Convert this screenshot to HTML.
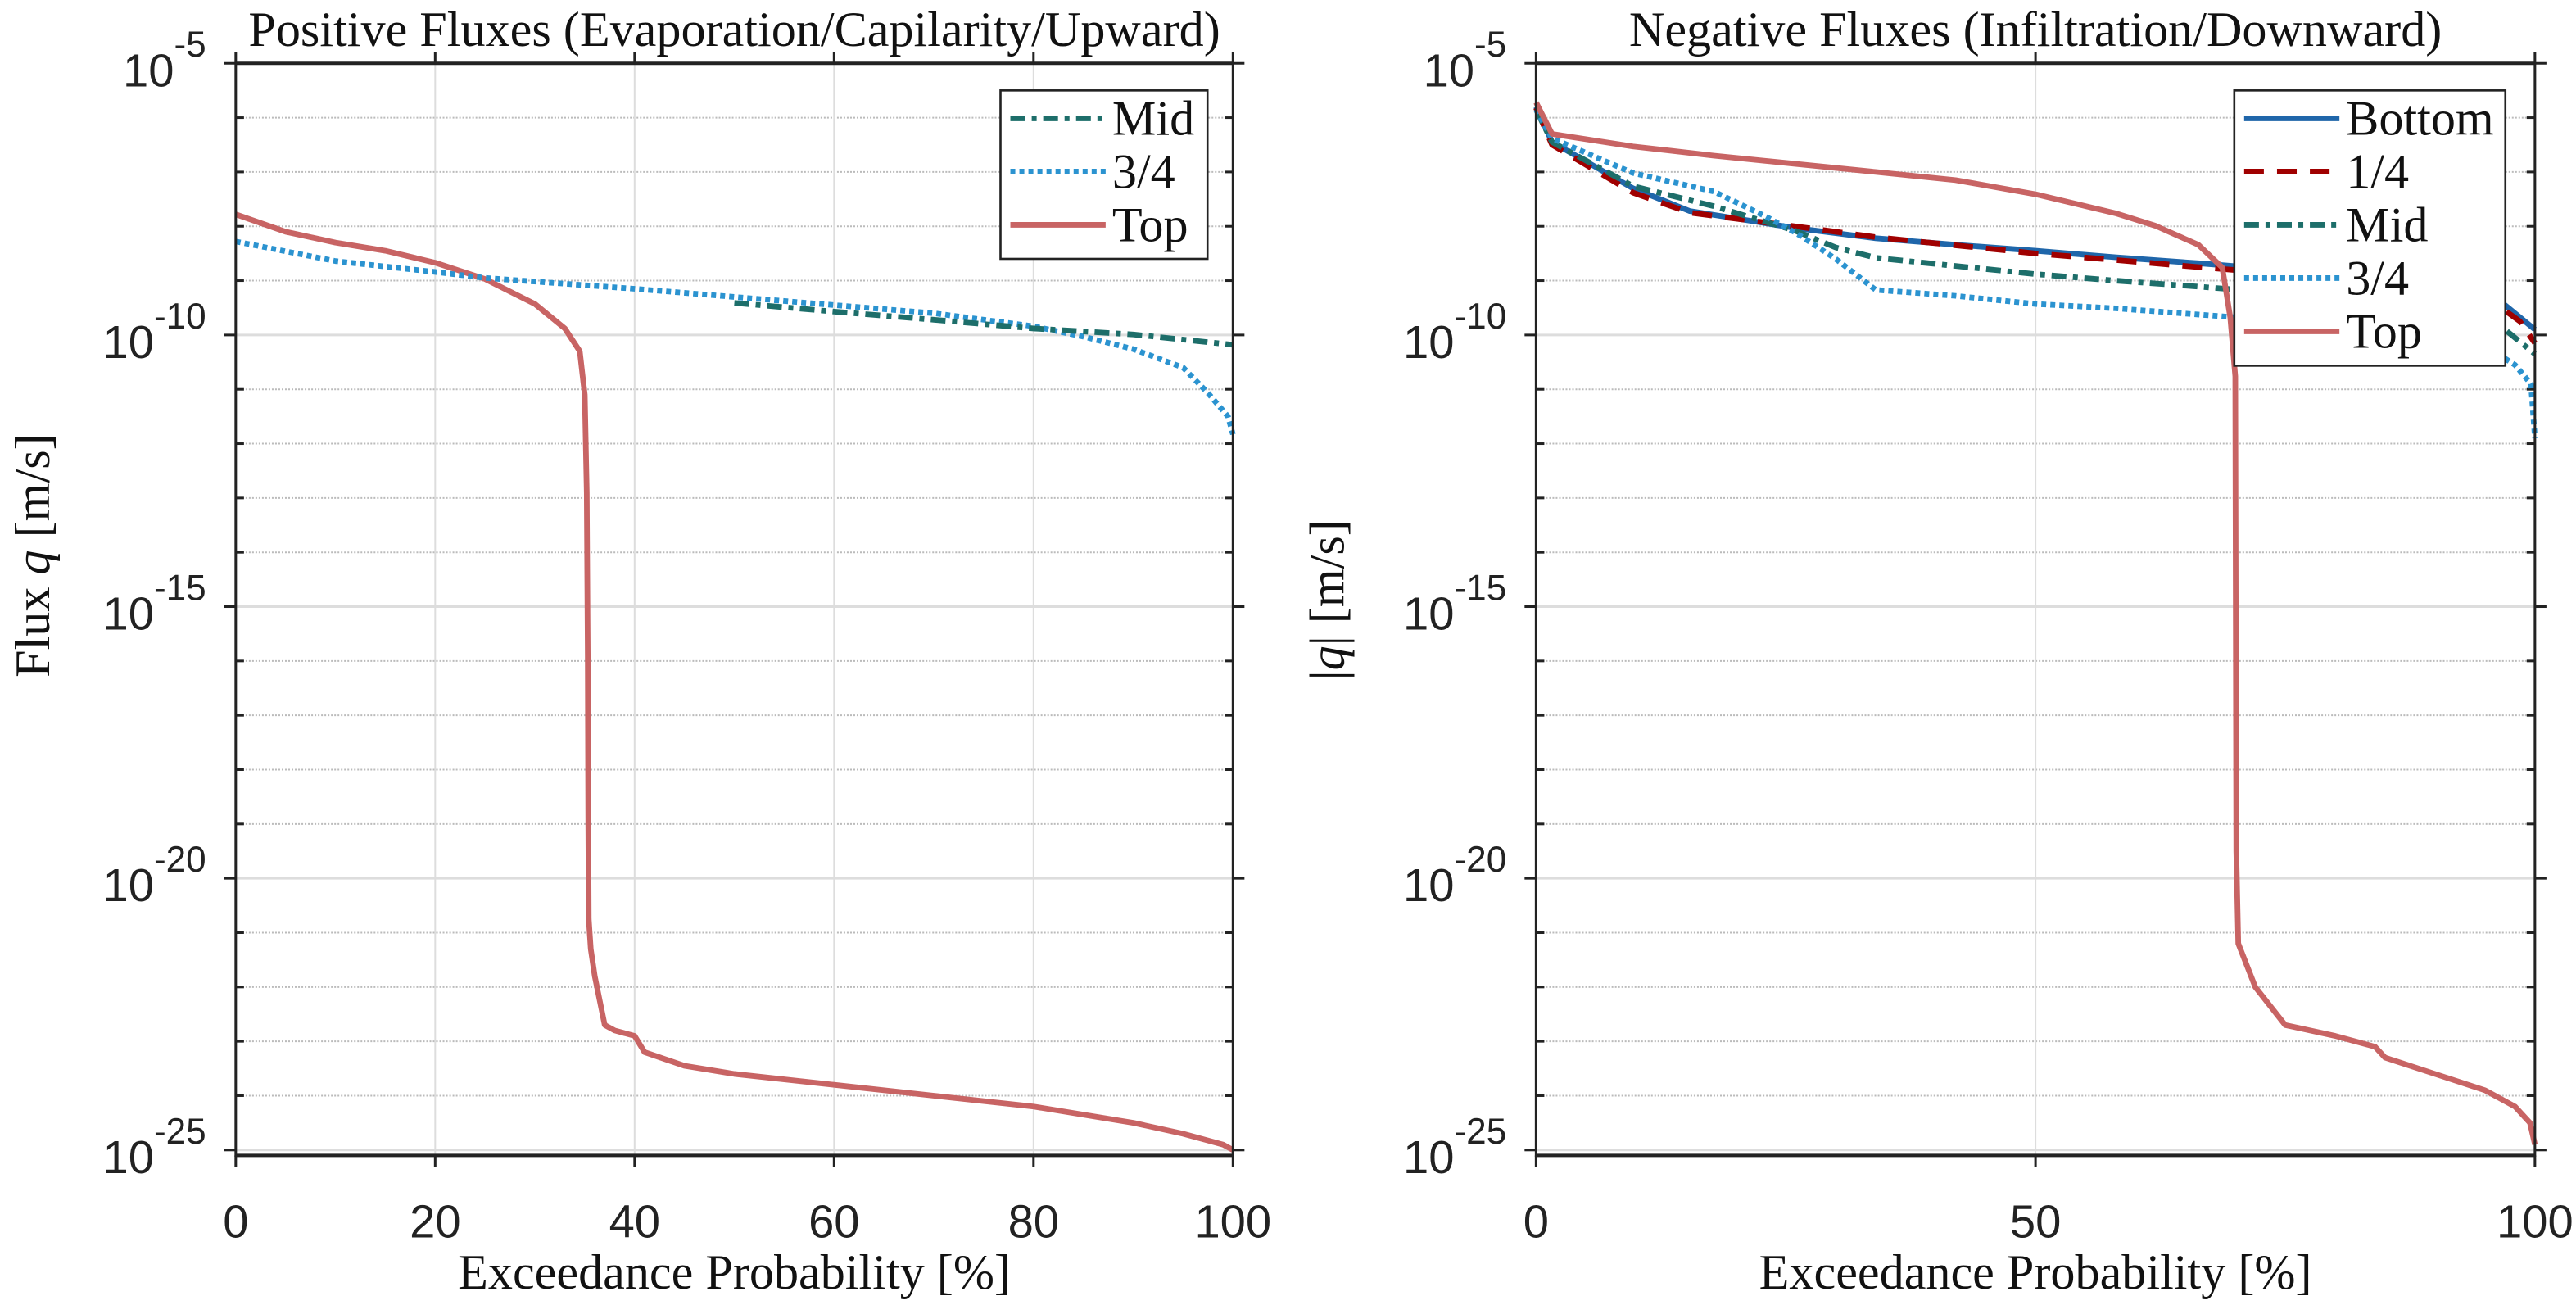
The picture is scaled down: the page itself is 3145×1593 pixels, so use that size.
<!DOCTYPE html>
<html><head><meta charset="utf-8"><style>
html,body{margin:0;padding:0;background:#fff;}
svg{display:block;}
.tt{font-family:"Liberation Serif",serif;font-size:30px;fill:#111;}
.tk{font-family:"Liberation Sans",sans-serif;font-size:28px;fill:#222;}
</style></head><body>
<svg id="chart" xmlns="http://www.w3.org/2000/svg" width="3145" height="1593" viewBox="0 0 1568 794" preserveAspectRatio="none">
<rect x="0" y="0" width="1568" height="794" fill="#fff"/>
</svg>
<script>
// ---- data (x = exceedance %, y = log10 flux) ----
const leftTopX = [0,5,10,15,20,25,30,33,34.5,35,35.2,35.3,35.35,35.4,35.6,36,37,38,40,41,45,50,60,70,80,90,95,99,100];
const leftTopY = [-7.78,-8.1,-8.3,-8.45,-8.67,-8.97,-9.43,-9.88,-10.3,-11.1,-12.9,-15.9,-18.9,-20.75,-21.3,-21.8,-22.7,-22.8,-22.9,-23.2,-23.45,-23.6,-23.8,-24.0,-24.2,-24.5,-24.7,-24.9,-25.0];
const left34X = [0,5,10,20,25,40,50,60,70,80,85,90,95,97.5,99.5,100];
const left34Y = [-8.28,-8.46,-8.64,-8.84,-8.95,-9.15,-9.3,-9.45,-9.6,-9.84,-10.03,-10.26,-10.6,-11.07,-11.5,-11.83];
const leftMidX = [50,60,70,80,90,100];
const leftMidY = [-9.41,-9.57,-9.72,-9.88,-9.99,-10.18];

const rightTopX = [0,1.6,9.7,17.8,25.9,34,42,50,58,62,66.3,68.7,69.5,70,70.1,70.3,72,75,80,84,85,90,95,98,99.5,100];
const rightTopY = [-5.72,-6.3,-6.53,-6.7,-6.85,-7.0,-7.15,-7.41,-7.76,-7.99,-8.34,-8.76,-9.68,-10.76,-19.5,-21.2,-22.0,-22.7,-22.9,-23.1,-23.3,-23.6,-23.9,-24.2,-24.5,-24.9];
const rightBotX = [0,1.6,9.7,15.4,25.9,34,42,50,58,66.3,74.4,82.5,90.5,97,100];
const rightBotY = [-5.8,-6.45,-7.3,-7.72,-8.03,-8.22,-8.34,-8.45,-8.57,-8.68,-8.8,-8.95,-9.15,-9.45,-9.9];
const rightQ1X = [0,1.6,9.7,15.4,25.9,34,42,50,58,66.3,74.4,82.5,90.5,97,98.5,100];
const rightQ1Y = [-5.82,-6.5,-7.38,-7.75,-8.0,-8.2,-8.35,-8.5,-8.62,-8.75,-8.87,-9.02,-9.2,-9.55,-9.75,-10.15];
const rightMidX = [0,1.6,9.7,17.8,25.9,30,34,42,50,58,66.3,74,82.5,90.5,97,100];
const rightMidY = [-5.85,-6.45,-7.26,-7.63,-8.08,-8.39,-8.58,-8.73,-8.88,-9.0,-9.11,-9.22,-9.38,-9.6,-9.9,-10.35];
const right34X = [0,1.6,9.7,17.8,23,26,30,34,42,50,58,66,74,82,90,95,98,99.6,100];
const right34Y = [-5.85,-6.38,-7.02,-7.36,-7.82,-8.12,-8.6,-9.17,-9.28,-9.43,-9.51,-9.62,-9.73,-9.85,-10.0,-10.2,-10.55,-10.9,-11.9];

const leftXTicks = [0,20,40,60,80,100];
const rightXTicks = [0,50,100];
const yTickExps = [-5,-10,-15,-20,-25];

const NS = "http://www.w3.org/2000/svg";
const svg = document.getElementById('chart');
function mk(tag, attrs, parent){ const e=document.createElementNS(NS,tag); for(const k in attrs) e.setAttribute(k,attrs[k]); (parent||svg).appendChild(e); return e; }

const COL = {bottom:'#1f66aa', q1:'#a00000', mid:'#1d6e6a', q34:'#2b93d0', top:'#c86464'};

function panel(name, x0, x1, xTicks, title, ylab, series, legend){
  const yT=38.5, yB=703, yMin=-25.1, yMax=-5;
  const sx = v => x0 + (v/100)*(x1-x0);
  const sy = v => yT + (yMax-v)/(yMax-yMin)*(yB-yT);
  const g = mk('g',{});
  
  
  for(let d=-6; d>=-24; d--){
    if(d%5===0) continue;
    const l=mk('line',{x1:x0,x2:x1,y1:sy(d),y2:sy(d),stroke:'#bbb','stroke-width':1,'stroke-dasharray':'1 1'},g);
    
    
    mk('line',{x1:x0,x2:x0+5,y1:sy(d),y2:sy(d),stroke:'#222','stroke-width':1.5},g);
    mk('line',{x1:x1-5,x2:x1,y1:sy(d),y2:sy(d),stroke:'#222','stroke-width':1.5},g);
  }
  yTickExps.forEach(e=>{
    const y=sy(e);
    const l=mk('line',{x1:x0,x2:x1,y1:y,y2:y,stroke:'#ddd','stroke-width':1.5},g);
    
    
    mk('line',{x1:x0-7,x2:x0,y1:y,y2:y,stroke:'#222','stroke-width':1.5},g);
    mk('line',{x1:x1,x2:x1+7,y1:y,y2:y,stroke:'#222','stroke-width':1.5},g);
    const t=mk('text',{x:x0-18,y:y+14,'text-anchor':'end',class:'tk'},g);
    
    
    t.textContent='10';
    const s=mk('tspan',{dy:-18,'font-size':'22'},t); s.textContent=String(e);
  });
  xTicks.forEach(v=>{
    const x=sx(v);
    const l=mk('line',{x1:x,x2:x,y1:yT,y2:yB,stroke:'#ddd','stroke-width':1},g);
    
    
    mk('line',{x1:x,x2:x,y1:yB,y2:yB+7,stroke:'#222','stroke-width':1.5},g);
    mk('line',{x1:x,x2:x,y1:yT-7,y2:yT,stroke:'#222','stroke-width':1.5},g);
    const t=mk('text',{x:x,y:753,'text-anchor':'middle',class:'tk'},g);
    
    
    t.textContent=String(v);
  });
  series.forEach(s=>{
    const d=s.x.map((v,i)=>(i?'L':'M')+sx(v).toFixed(2)+' '+sy(s.y[i]).toFixed(2)).join(' ');
    const p=mk('path',{d:d,fill:'none',stroke:s.c,'stroke-width':3.4,'stroke-dasharray':s.dash||'none','stroke-linejoin':'round'},g);
    
    
  });
  mk('rect',{x:x0,y:yT,width:x1-x0,height:yB-yT,fill:'none',stroke:'#222','stroke-width':1.5},g);
  mk('line',{x1:x0,x2:x1,y1:yT,y2:yT,stroke:'#222','stroke-width':2},g);
  mk('line',{x1:x0,x2:x1,y1:yB,y2:yB,stroke:'#222','stroke-width':2},g);
  const tt=mk('text',{x:(x0+x1)/2,y:28,'text-anchor':'middle',class:'tt','font-size':'31'},g);
  
  
  tt.textContent=title;
  const xl=mk('text',{x:(x0+x1)/2,y:784,'text-anchor':'middle',class:'tt','font-size':'31'},g);
  
  
  xl.textContent='Exceedance Probability [%]';
  const yl=mk('text',{x:0,y:0,'text-anchor':'middle',class:'tt','font-size':'31',transform:'translate('+ylab.x+','+ylab.cy+') rotate(-90)'},g);
  
  
  yl.innerHTML=ylab.html;
  const lg=mk('g',{},g);
  
  
  mk('rect',{x:legend.x,y:55,width:legend.w,height:legend.items.length*32.5+5,fill:'#fff',stroke:'#222','stroke-width':1.3},lg);
  legend.items.forEach((it,i)=>{
    const y=72+i*32.4;
    const e=mk('g',{},lg);
    
    
    mk('line',{x1:legend.x+6,x2:legend.x+64,y1:y,y2:y,stroke:it.c,'stroke-width':3.4,'stroke-dasharray':it.dash||'none'},e);
    const t=mk('text',{x:legend.x+68,y:y+10,class:'tt','font-size':'29'},e);
    t.textContent=it.label;
  });
}

const dashMid='9 4 3 4', dashDot='3 2.5', dashQ1='12 8';
panel('left',143.5,750.5,leftXTicks,'Positive Fluxes (Evaporation/Capilarity/Upward)',
  {x:30,cy:338,html:'Flux <tspan font-style="italic">q</tspan> [m/s]'},
  [{n:'top',x:leftTopX,y:leftTopY,c:COL.top},
   {n:'three-quarter',x:left34X,y:left34Y,c:COL.q34,dash:dashDot},
   {n:'mid',x:leftMidX,y:leftMidY,c:COL.mid,dash:dashMid}],
  {x:609,w:126,items:[{n:'mid',label:'Mid',c:COL.mid,dash:dashMid},{n:'three-quarter',label:'3/4',c:COL.q34,dash:dashDot},{n:'top',label:'Top',c:COL.top}]});
panel('right',935,1543,rightXTicks,'Negative Fluxes (Infiltration/Downward)',
  {x:818,cy:365,html:'|<tspan font-style="italic">q</tspan>| [m/s]'},
  [{n:'bottom',x:rightBotX,y:rightBotY,c:COL.bottom},
   {n:'quarter',x:rightQ1X,y:rightQ1Y,c:COL.q1,dash:dashQ1},
   {n:'mid',x:rightMidX,y:rightMidY,c:COL.mid,dash:dashMid},
   {n:'three-quarter',x:right34X,y:right34Y,c:COL.q34,dash:dashDot},
   {n:'top',x:rightTopX,y:rightTopY,c:COL.top}],
  {x:1360,w:165,items:[{n:'bottom',label:'Bottom',c:COL.bottom},{n:'quarter',label:'1/4',c:COL.q1,dash:dashQ1},{n:'mid',label:'Mid',c:COL.mid,dash:dashMid},{n:'three-quarter',label:'3/4',c:COL.q34,dash:dashDot},{n:'top',label:'Top',c:COL.top}]});
</script>
</body></html>
